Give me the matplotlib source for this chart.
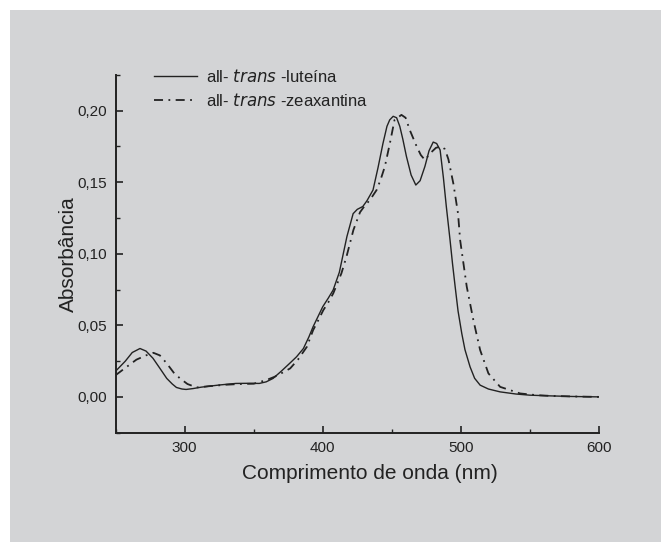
import matplotlib
matplotlib.use("Agg")
import matplotlib.pyplot as plt
from matplotlib.patches import Rectangle
from matplotlib.ticker import MultipleLocator, FuncFormatter
import numpy as np

# all-trans-luteina (solid line)
lut_x = [250, 257, 262, 267.6, 272, 277, 282, 287, 291, 294, 298, 301, 306, 312, 318,
         325, 337, 347, 354, 359, 364, 370, 376, 381, 386, 390, 393, 397, 400,
         404, 407.5, 412, 417.5, 422, 425, 429, 432, 436.4, 440, 443.6, 446.5, 448.5,
         451, 453.5, 455.8, 458, 460.6, 464, 467.4, 470.5, 474, 477, 480, 482.5, 485,
         487.4, 489.5, 492.2, 494, 495.9, 498, 500.7, 503, 506.7, 510, 514, 520, 528.5,
         540, 550, 565, 580, 600]
lut_y = [0.018, 0.025, 0.031, 0.0338, 0.032, 0.027, 0.020, 0.0129, 0.009, 0.0066, 0.0055, 0.0052, 0.0058, 0.0068, 0.0075,
         0.0083, 0.0094, 0.0095, 0.0094, 0.0105, 0.0129, 0.018, 0.0234, 0.028, 0.0338, 0.042, 0.049, 0.057, 0.063,
         0.069, 0.0746, 0.087, 0.112, 0.128, 0.131, 0.133, 0.137, 0.1445, 0.160, 0.177, 0.189, 0.1935,
         0.196, 0.195, 0.189, 0.180, 0.168, 0.155, 0.148, 0.151, 0.161, 0.172, 0.178, 0.177, 0.1725,
         0.153, 0.133, 0.1096, 0.093, 0.077, 0.060, 0.0443, 0.033, 0.021, 0.013, 0.0082, 0.0055, 0.0035,
         0.002, 0.0012, 0.0007, 0.0003, 0.0]

# all-trans-zeaxantina (dash-dot line)
zea_x = [250, 258, 265, 272, 277.3, 282, 287, 292, 296.6, 302, 308.5, 318, 330, 340,
         350, 359, 365, 371, 376.4, 382, 388.5, 393, 397, 400.4, 404, 407.6, 413.5,
         417.2, 422.2, 427, 430, 434.2, 439, 442, 445, 448.6, 452, 457, 460, 463,
         468, 471, 474, 478.7, 482, 486, 488.5, 491, 494.6, 498, 499.5, 504.3,
         509.1, 514, 520, 528.5, 543, 555, 565, 580, 600]
zea_y = [0.0152, 0.021, 0.026, 0.029, 0.0308, 0.029, 0.0234, 0.017, 0.0129, 0.009, 0.0066, 0.0075, 0.0085, 0.009,
         0.0092, 0.0117, 0.014, 0.017, 0.0199, 0.026, 0.035, 0.0466, 0.054, 0.0606, 0.066, 0.0723, 0.0863,
         0.098, 0.1166, 0.129, 0.133, 0.1376, 0.1445, 0.152, 0.161, 0.177, 0.1935, 0.197, 0.195, 0.1865,
         0.175, 0.169, 0.1655, 0.171, 0.174, 0.175, 0.173, 0.166, 0.149, 0.128, 0.1096, 0.077,
         0.0536, 0.0327, 0.0164, 0.007, 0.0024, 0.0012, 0.0007, 0.0003, 0.0]

plt.rcParams['font.family'] = ['Liberation Sans', 'DejaVu Sans']

fig = plt.figure(figsize=(6.61, 5.42), dpi=100)
fig.patch.set_facecolor('white')
# gray panel with a thin white margin on the top and left
fig.patches.append(Rectangle((10 / 661, 0), 1, 1 - 10 / 542, transform=fig.transFigure,
                             facecolor='#d3d4d6', edgecolor='none', zorder=-10))

ax = fig.add_axes([0.175, 0.2017, 0.731, 0.6603])
ax.set_facecolor('none')

ax.plot(lut_x, lut_y, color='#222222', lw=1.0, ls='-', label='all- $\\it{trans}$ -luteína')
ax.plot(zea_x, zea_y, color='#222222', lw=1.3, ls=(0, (5, 3, 1, 3)), label='all- $\\it{trans}$ -zeaxantina')

ax.set_xlim(250, 600)
ax.set_ylim(-0.025, 0.225)
ax.xaxis.set_major_locator(MultipleLocator(100))
ax.xaxis.set_minor_locator(MultipleLocator(50))
ax.yaxis.set_major_locator(MultipleLocator(0.05))
ax.yaxis.set_minor_locator(MultipleLocator(0.025))
ax.yaxis.set_major_formatter(FuncFormatter(lambda v, p: f"{v:.2f}".replace('.', ',')))

for s in ['top', 'right']:
    ax.spines[s].set_visible(False)
for s in ['left', 'bottom']:
    ax.spines[s].set_linewidth(1.4)
    ax.spines[s].set_color('#222222')

ax.tick_params(which='major', direction='in', length=5, width=1.2, labelsize=11,
               colors='#222222', pad=6)
ax.tick_params(which='minor', direction='in', length=3, width=1.0, colors='#222222')

ax.set_xlabel('Comprimento de onda (nm)', fontsize=15, color='#222222')
ax.xaxis.set_label_coords(0.526, -0.088)
ax.set_ylabel('Absorbância', fontsize=15, color='#222222', labelpad=0)

leg = ax.legend(loc='upper left', bbox_to_anchor=(0.048, 1.06), frameon=False,
                fontsize=12, handlelength=2.6, labelspacing=0.39, handletextpad=0.5)
for t in leg.get_texts():
    t.set_color('#222222')

fig.savefig('out.png', dpi=100, facecolor=fig.get_facecolor())
